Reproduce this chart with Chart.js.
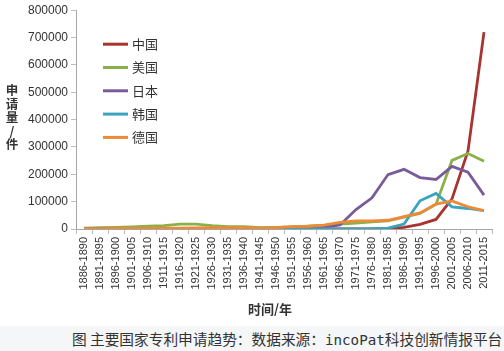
<!DOCTYPE html>
<html>
<head>
<meta charset="utf-8">
<script src="https://cdn.jsdelivr.net/npm/chart.js@4.4.0/dist/chart.umd.min.js"></script>
<style>
  html, body { margin: 0; padding: 0; background: #fff; }
  #wrap { position: relative; width: 504px; height: 326px; }
  #caption {
    position: absolute; left: 0; top: 326px; width: 504px; height: 25px;
    background: #f5f6f8; color: #333; white-space: nowrap;
    font: 14.7px "Noto Sans CJK SC"; line-height: 25px; padding-left: 72px; box-sizing: border-box;
  }
  #caption span { font-family: "DejaVu Sans Mono"; font-size: 14.2px; }
</style>
</head>
<body>
<div id="wrap"><canvas id="chart" width="504" height="326"></canvas></div>
<div id="caption">图 主要国家专利申请趋势：数据来源：<span>incoPat</span>科技创新情报平台</div>
<script>
// periodos de 5 años
const periods = [
  "1886-1890", "1891-1895", "1896-1900", "1901-1905", "1906-1910", "1911-1915",
  "1916-1920", "1921-1925", "1926-1930", "1931-1935", "1936-1940", "1941-1945",
  "1946-1950", "1951-1955", "1956-1960", "1961-1965", "1966-1970", "1971-1975",
  "1976-1980", "1981-1985", "1986-1990", "1991-1995", "1996-2000", "2001-2005",
  "2006-2010", "2011-2015"
];

// series
const china = [0, 0, 0, 0, 0, 0, 0, 0, 0, 0, 0, 0, 0, 0, 0, 0, 0, 0, 0, 1000, 6000, 17000, 35000, 110000, 285000, 720000];
const usa = [3000, 5000, 6000, 8000, 10000, 12000, 18000, 18000, 12000, 9000, 9000, 5000, 6000, 8000, 10000, 13000, 18000, 22000, 26000, 30000, 43000, 57000, 90000, 251000, 276000, 248000];
const japan = [1000, 1000, 1000, 1000, 1500, 1500, 2000, 2000, 2000, 2000, 2000, 1000, 1000, 2000, 3000, 6000, 15000, 71000, 114000, 199000, 218000, 188000, 181000, 229000, 208000, 124000];
const korea = [0, 0, 0, 0, 0, 0, 0, 0, 0, 0, 0, 0, 0, 0, 0, 0, 0, 500, 1000, 3000, 18000, 103000, 130000, 81000, 75000, 67000];
const germany = [1000, 1500, 2000, 2000, 2500, 3000, 3000, 4000, 5000, 5000, 5000, 3000, 5000, 9000, 10000, 14000, 24000, 30000, 30000, 32000, 45000, 59000, 91000, 103000, 81000, 67000];

const seriesNames = ["中国", "美国", "日本", "韩国", "德国"];
const seriesColors = ["#a83432", "#8ab04a", "#7a5b9a", "#3aa3bd", "#ee8a37"];
const yTitle = ["申", "请", "量", "/", "件"];
const xTitle = "时间/年";

// Plugin para leyenda interna y titulos de ejes
const extras = {
  id: "extras",
  afterDraw(chart) {
    const ctx = chart.ctx;
    const area = chart.chartArea;
    ctx.save();
    ctx.fillStyle = "#333";
    ctx.textAlign = "center";
    ctx.textBaseline = "middle";
    ctx.font = 'bold 12.5px "Noto Sans CJK SC"';
    yTitle.forEach((ch, i) => ctx.fillText(ch, 12, area.top + 80 + i * 13.6));
    ctx.font = 'bold 13px "Noto Sans CJK SC"';
    ctx.fillText(xTitle, area.left + 194, 309);

    ctx.font = '13px "Noto Sans CJK SC"';
    ctx.textAlign = "left";
    chart.data.datasets.forEach((ds, i) => {
      const y = area.top + 34 + i * 23.3;
      ctx.strokeStyle = ds.borderColor;
      ctx.lineWidth = 3;
      ctx.beginPath();
      ctx.moveTo(area.left + 27, y);
      ctx.lineTo(area.left + 52, y);
      ctx.stroke();
      ctx.fillStyle = "#333";
      ctx.fillText(ds.label, area.left + 56, y);
    });
    ctx.restore();
  },
};

const allData = [china, usa, japan, korea, germany];
const datasets = allData.map((values, i) => ({
  label: seriesNames[i],
  data: values,
  borderColor: seriesColors[i],
  backgroundColor: seriesColors[i],
  borderWidth: 2.8,
  pointRadius: 0,
  tension: 0,
  order: allData.length - i,
}));

new Chart(document.getElementById("chart"), {
  type: "line",
  data: { labels: periods, datasets: datasets },
  options: {
    responsive: false,
    animation: false,
    layout: { padding: { top: 9, right: 12, left: 0, bottom: 0 } },
    plugins: { legend: { display: false }, tooltip: { enabled: false } },
    scales: {
      x: {
        offset: true,
        grid: { offset: true, drawOnChartArea: false, tickLength: 5, color: "#bdbdbd" },
        border: { color: "#a6a6a6" },
        ticks: {
          autoSkip: false, minRotation: 90, maxRotation: 90, padding: 3,
          color: "#333", font: { family: "Liberation Sans", size: 11 },
        },
        afterFit(scale) { scale.height = 97; },
      },
      y: {
        min: 0,
        max: 800000,
        grid: { drawOnChartArea: false, tickLength: 5, color: "#bdbdbd" },
        border: { color: "#a6a6a6" },
        ticks: {
          stepSize: 100000, padding: 3,
          color: "#333", font: { family: "Liberation Sans", size: 12 },
          callback: (value) => String(value),
        },
        afterFit(scale) { scale.width = 76; },
      },
    },
  },
  plugins: [extras],
});
</script>
</body>
</html>
